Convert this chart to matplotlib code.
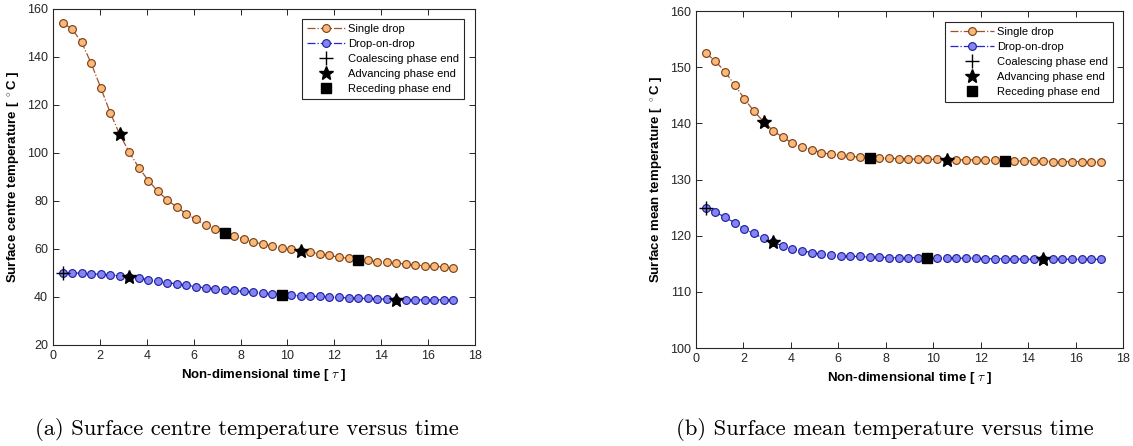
import matplotlib.pyplot as plt

# non-dimensional time of each saved frame
tau = [0.407, 0.813, 1.220, 1.626, 2.033, 2.439, 2.846, 3.252, 3.659, 4.065,
       4.472, 4.878, 5.285, 5.691, 6.098, 6.504, 6.911, 7.317, 7.724, 8.130,
       8.537, 8.943, 9.350, 9.756, 10.163, 10.569, 10.976, 11.382, 11.789, 12.195,
       12.602, 13.008, 13.415, 13.821, 14.228, 14.634, 15.041, 15.447, 15.854, 16.260,
       16.667, 17.073]

# surface centre temperature [C]
centre_single = [154.2, 151.7, 146.1, 137.4, 127.2, 116.8, 107.7, 100.3, 93.9, 88.5,
                 84.0, 80.4, 77.4, 74.6, 72.3, 70.0, 68.2, 66.6, 65.2, 64.1,
                 63.0, 62.0, 61.2, 60.5, 59.8, 59.3, 58.6, 58.0, 57.3, 56.6,
                 56.1, 55.5, 55.3, 54.7, 54.4, 54.1, 53.7, 53.3, 53.0, 52.8,
                 52.5, 52.1]
centre_dod = [50.1, 50.0, 49.9, 49.7, 49.4, 49.2, 48.8, 48.2, 47.8, 47.2,
              46.7, 46.0, 45.4, 44.9, 44.3, 43.8, 43.4, 42.9, 42.7, 42.3,
              42.0, 41.7, 41.4, 41.0, 40.7, 40.5, 40.3, 40.2, 39.9, 39.8,
              39.6, 39.5, 39.4, 39.2, 39.1, 38.9, 38.9, 38.8, 38.8, 38.8,
              38.8, 38.8]

# surface mean temperature [C]
mean_single = [152.5, 151.1, 149.2, 146.9, 144.4, 142.2, 140.3, 138.7, 137.5, 136.5,
               135.8, 135.3, 134.8, 134.5, 134.3, 134.1, 134.0, 133.8, 133.8, 133.8,
               133.7, 133.7, 133.6, 133.6, 133.6, 133.5, 133.5, 133.5, 133.5, 133.4,
               133.4, 133.3, 133.3, 133.3, 133.3, 133.3, 133.2, 133.2, 133.2, 133.2,
               133.1, 133.1]
mean_dod = [125.0, 124.2, 123.3, 122.3, 121.2, 120.4, 119.5, 118.8, 118.2, 117.7,
            117.3, 117.0, 116.7, 116.6, 116.4, 116.3, 116.3, 116.2, 116.2, 116.1,
            116.1, 116.1, 116.1, 116.0, 116.0, 116.0, 116.0, 116.0, 116.0, 115.9,
            115.9, 115.9, 115.9, 115.8, 115.8, 115.8, 115.8, 115.8, 115.8, 115.8,
            115.8, 115.8]

# frame indices where each phase ends
single_adv = [6, 25]
single_rec = [17, 31]
dod_coal = [0]
dod_adv = [7, 35]
dod_rec = [23]

plt.rcParams['font.family'] = ['Liberation Sans', 'DejaVu Sans']
plt.rcParams['mathtext.fontset'] = 'cm'

fig = plt.figure(figsize=(11.33, 4.46), dpi=100)
ax1 = fig.add_axes([0.0468, 0.2265, 0.3725, 0.7534])
ax2 = fig.add_axes([0.6143, 0.2197, 0.3769, 0.7556])

panels = [
    (ax1, centre_single, centre_dod, 'Surface centre temperature [ $^\\circ$C ]',
     (20, 160), range(20, 161, 20), (0.4095, 0.9574), 3.4),
    (ax2, mean_single, mean_dod, 'Surface mean temperature [ $^\\circ$C ]',
     (100, 160), range(100, 161, 10), (0.9823, 0.9507), 3.9),
]

for ax, ys, yd, ylab, ylim, yticks, leg_pos, hlen in panels:
    ax.plot(tau, ys, '-.o', color='#a0522d', lw=0.9, ms=5.6,
            mfc='#f9b97a', mec='#7a3a10', mew=0.8, label='Single drop')
    ax.plot(tau, yd, '-.o', color='#2525d0', lw=0.9, ms=5.6,
            mfc='#8585f0', mec='#1a1aa0', mew=0.8, label='Drop-on-drop')
    ax.plot([tau[i] for i in dod_coal], [yd[i] for i in dod_coal], '+',
            color='k', ms=10, mew=1.0, ls='none', label='Coalescing phase end')
    ax.plot([tau[i] for i in single_adv] + [tau[i] for i in dod_adv],
            [ys[i] for i in single_adv] + [yd[i] for i in dod_adv], '*',
            color='k', ms=10, ls='none', label='Advancing phase end')
    ax.plot([tau[i] for i in single_rec] + [tau[i] for i in dod_rec],
            [ys[i] for i in single_rec] + [yd[i] for i in dod_rec], 's',
            color='k', ms=7, ls='none', label='Receding phase end')

    ax.set_xlim(0, 18)
    ax.set_ylim(*ylim)
    ax.set_xticks(range(0, 19, 2))
    ax.set_yticks(list(yticks))
    ax.tick_params(direction='in', top=True, right=True, labelsize=9,
                   colors='#262626', length=4, width=0.7)
    for s in ax.spines.values():
        s.set_color('#262626')
        s.set_linewidth(0.8)
    ax.set_xlabel('Non-dimensional time [ $\\tau$ ]', fontsize=9.5, fontweight='bold')
    ax.set_ylabel(ylab, fontsize=9.5, fontweight='bold')

    leg = ax.legend(loc='upper right', bbox_to_anchor=leg_pos,
                    bbox_transform=fig.transFigure, fontsize=8, frameon=True,
                    fancybox=False, framealpha=1, edgecolor='#262626',
                    handlelength=hlen, handletextpad=0.3, labelspacing=0.45,
                    borderpad=0.45, borderaxespad=0)
    leg.get_frame().set_linewidth(0.8)

fig.text(0.218, 0.036, '(a) Surface centre temperature versus time',
         family='cmr10', fontsize=16.3, ha='center', va='center')
fig.text(0.781, 0.036, '(b) Surface mean temperature versus time',
         family='cmr10', fontsize=16.3, ha='center', va='center')

fig.savefig('out.png', dpi=100)
